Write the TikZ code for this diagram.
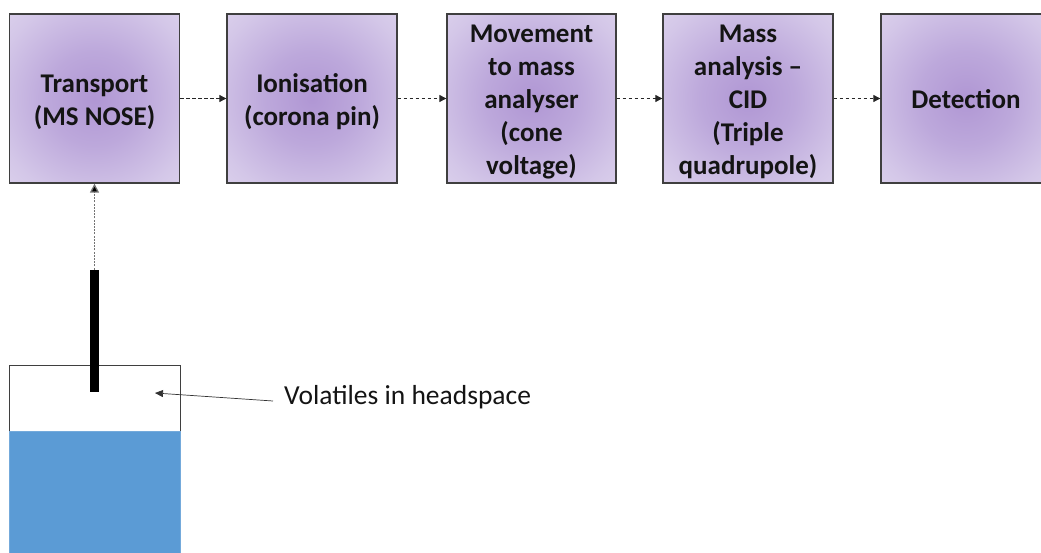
\documentclass[tikz,border=0pt]{standalone}
\usepackage{fontspec}
\setmainfont{Carlito}
\usetikzlibrary{arrows.meta}
\definecolor{boxedge}{HTML}{3F3F3F}
\definecolor{liquid}{HTML}{5B9BD5}
% struts that fix the height of the first and the depth of the last text line
\newcommand\topstrut{\rule{0pt}{27pt}}
\newcommand\botstrut{\rule[-6pt]{0pt}{6pt}}
% soft purple glow used inside the process stages
\pgfdeclareradialshading{stageglow}{\pgfpoint{0bp}{0bp}}{%
  rgb(0bp)=(0.69,0.59,0.83);
  rgb(14bp)=(0.74,0.66,0.86);
  rgb(30bp)=(0.83,0.78,0.91);
  rgb(45bp)=(0.89,0.86,0.94);
  rgb(50bp)=(0.90,0.87,0.94)}
\tikzset{
  stage/.style={draw=boxedge, line width=1.3pt, shading=stageglow,
    minimum width=170pt, minimum height=169pt, align=center, inner sep=0pt,
    font=\fontsize{27}{33}\selectfont\bfseries, text=black!92},
  flow/.style={draw=black!85, dashed, dash pattern=on 3.5pt off 2.5pt, line width=0.8pt,
    -{Triangle[length=7pt,width=7pt]}},
  lift/.style={draw=black!55, dash pattern=on 2pt off 1.2pt, line width=1.3pt,
    -{Triangle[length=9pt,width=9pt,fill=black]}},
  pointer/.style={draw=black!80, line width=0.7pt, -{Triangle[length=8pt,width=7pt]}},
}
\begin{document}
\begin{tikzpicture}[x=1pt,y=1pt]
\useasboundingbox (0,0) rectangle (1041,-553);
\begin{scope}
\clip (0,0) rectangle (1041,-553);
% process stages
\node[stage] (transport) at (94.5,-98.5) {\topstrut Transport\\(MS NOSE)\botstrut};
\node[stage] (ionise) at (312,-98.5) {\topstrut Ionisation\\(corona pin)\botstrut};
\node[stage, minimum width=169pt] (move) at (531.5,-98.5) {\topstrut Movement\\to mass\\analyser\\(cone\\voltage)\botstrut};
\node[stage] (analysis) at (748,-98.5) {\topstrut Mass\\analysis --\\CID\\(Triple\\quadrupole)\botstrut};
\node[stage] (detect) at (966,-98.5) {\topstrut Detection\botstrut};
% sample vial: headspace above the liquid
\node[draw=boxedge, line width=1.1pt, fill=white, minimum width=171pt, minimum height=66pt,
  inner sep=0pt, anchor=north west] (headspace) at (9,-365) {};
\node[draw=liquid!85!white, line width=0.8pt, fill=liquid, minimum width=171pt, minimum height=130pt,
  inner sep=0pt, anchor=north west] (liquidpart) at (9,-431) {};
% sampling probe
\node[fill=black, minimum width=9pt, minimum height=122pt, inner sep=0pt, anchor=south]
  (probe) at (94.5,-392) {};
\coordinate (hs) at (155,-393);
\node[anchor=west, font=\fontsize{27.5}{30}\selectfont, inner sep=0pt, text=black!92] (vol) at (284,-397) {Volatiles in headspace};
\end{scope}
% connectors
\draw[flow] (transport.east) -- (ionise.west);
\draw[flow] (ionise.east) -- (move.west);
\draw[flow] (move.east) -- (analysis.west);
\draw[flow] (analysis.east) -- (detect.west);
\draw[lift] (probe.north) -- (transport.south);
\draw[pointer] ([xshift=-11pt,yshift=-4pt]vol.west) -- (hs);
\end{tikzpicture}
\end{document}
